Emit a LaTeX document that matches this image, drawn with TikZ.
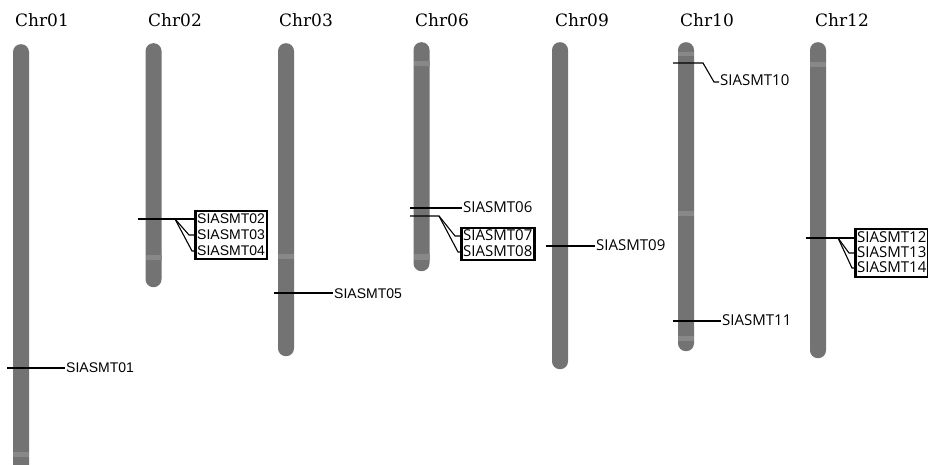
\documentclass[tikz,border=0pt]{standalone}
\usepackage{fontspec}
\usetikzlibrary{fit}
\newfontfamily\chrfont{DejaVu Serif}
\newfontfamily\arialf{Liberation Sans}
\newfontfamily\segoef{Open Sans}
\definecolor{chromgray}{HTML}{737373}
\definecolor{bandgray}{HTML}{888888}
\tikzset{
  chrom/.style={fill=chromgray, draw=none, rounded corners=7.8pt, inner sep=0pt, minimum width=16pt, anchor=north},
  band/.style={fill=bandgray, draw=none},
  chrlabel/.style={font=\chrfont\fontsize{17}{18}\selectfont, inner sep=0pt},
  geneA/.style={font=\arialf\fontsize{14}{16}\selectfont, inner sep=1pt, anchor=west, text height=10pt, text depth=2pt},
  geneB/.style={font=\segoef\fontsize{15}{16}\selectfont, inner sep=1pt, anchor=west, text height=10pt, text depth=2pt},
  geneC/.style={geneB, text height=11pt, text depth=3pt},
  conn/.style={draw=black, line width=1.1pt},
  genebox/.style={draw=black, line width=2.6pt, inner sep=0.8pt}
}
\begin{document}
\begin{tikzpicture}[x=1pt,y=-1pt]
\useasboundingbox[fill=white] (0,0) rectangle (928,465);
% chromosome labels
\node[chrlabel] (l1) at (42,20) {Chr01};
\node[chrlabel] (l2) at (175,20) {Chr02};
\node[chrlabel] (l3) at (306,20) {Chr03};
\node[chrlabel] (l6) at (442,20) {Chr06};
\node[chrlabel] (l9) at (582,20) {Chr09};
\node[chrlabel] (l10) at (707,20) {Chr10};
\node[chrlabel] (l12) at (842,20) {Chr12};
% chromosomes
\node[chrom, minimum height=440pt] (c1) at (21,44) {};
\node[chrom, minimum height=244pt] (c2) at (153.5,43) {};
\node[chrom, minimum height=313pt] (c3) at (286,43) {};
\node[chrom, minimum height=229pt] (c6) at (421.5,42) {};
\node[chrom, minimum height=327pt] (c9) at (560,42) {};
\node[chrom, minimum height=309pt] (c10) at (686,42) {};
\node[chrom, minimum height=316pt] (c12) at (818,42) {};
% bands
\fill[band] (13,452) rectangle (29,457);
\fill[band] (145.5,255) rectangle (161.5,260);
\fill[band] (278,254) rectangle (294,259);
\fill[band] (413.5,61) rectangle (429.5,66);
\fill[band] (413.5,254) rectangle (429.5,260);
\fill[band] (678,52) rectangle (694,56);
\fill[band] (678,211) rectangle (694,216);
\fill[band] (678,336) rectangle (694,341);
\fill[band] (810,62) rectangle (826,67);
% SIASMT01
\coordinate (s1) at (7,368);
\node[geneA] (g1) at (65,368) {SIASMT01};
\draw[conn] (s1) -- (g1.west);
% SIASMT02-04
\coordinate (s2) at (138,219);
\coordinate (k2) at (175,219);
\coordinate (k3) at (189,235);
\coordinate (k4) at (192,251);
\node[geneA] (g2) at (196,219) {SIASMT02};
\node[geneA] (g3) at (196,235) {SIASMT03};
\node[geneA] (g4) at (196,251) {SIASMT04};
\node[genebox, fit=(g2)(g3)(g4)] (b1) {};
\draw[conn] (s2) -- (k2) -- (g2.west);
\draw[conn] (k2) -- (k3) -- (g3.west);
\draw[conn] (k2) -- (k4) -- (g4.west);
% SIASMT05
\coordinate (s5) at (274,293);
\node[geneA] (g5) at (333,294) {SIASMT05};
\draw[conn] (s5) -- (g5.west |- s5);
% SIASMT06
\coordinate (s6) at (410,208);
\node[geneB] (g6) at (462,208) {SIASMT06};
\draw[conn] (s6) -- (g6.west);
% SIASMT07-08
\coordinate (s7) at (410,216);
\coordinate (k7) at (439,216);
\coordinate (k7b) at (455,236);
\coordinate (k8) at (458,252);
\node[geneB] (g7) at (462,236) {SIASMT07};
\node[geneB] (g8) at (462,252) {SIASMT08};
\node[genebox, fit=(g7)(g8)] (b2) {};
\draw[conn] (s7) -- (k7) -- (k7b) -- (g7.west);
\draw[conn] (k7) -- (k8) -- (g8.west);
% SIASMT09
\coordinate (s9) at (546,246);
\node[geneB] (g9) at (595,246) {SIASMT09};
\draw[conn] (s9) -- (g9.west);
% SIASMT10
\coordinate (s10) at (673,63);
\coordinate (k10) at (703,63);
\coordinate (k10b) at (714,82);
\node[geneB] (g10) at (719,82) {SIASMT10};
\draw[conn] (s10) -- (k10) -- (k10b) -- (g10.west);
% SIASMT11
\coordinate (s11) at (673,321);
\node[geneB] (g11) at (721,321) {SIASMT11};
\draw[conn] (s11) -- (g11.west);
% SIASMT12-14
\coordinate (s12) at (806,238);
\coordinate (k12) at (838,238);
\coordinate (k13) at (849,253);
\coordinate (k14) at (852,268);
\node[geneC] (g12) at (856,238) {SIASMT12};
\node[geneC] (g13) at (856,253) {SIASMT13};
\node[geneC] (g14) at (856,268) {SIASMT14};
\node[genebox, fit=(g12)(g13)(g14)] (b3) {};
\draw[conn] (s12) -- (k12) -- (g12.west);
\draw[conn] (k12) -- (k13) -- (g13.west);
\draw[conn] (k12) -- (k14) -- (g14.west);
\end{tikzpicture}
\end{document}
